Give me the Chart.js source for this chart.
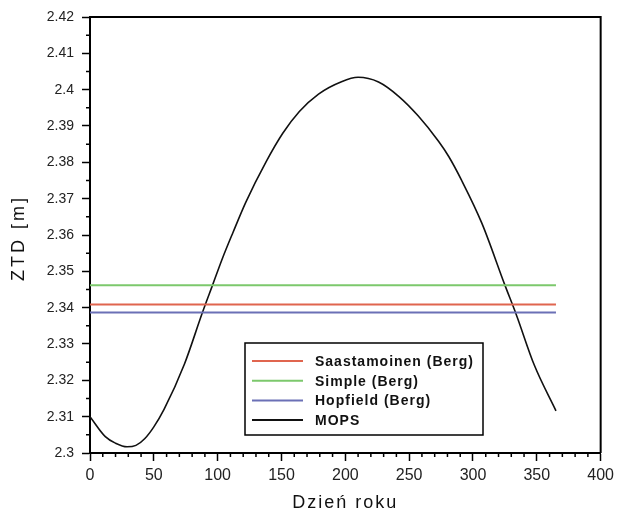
<!DOCTYPE html>
<html>
<head>
<meta charset="utf-8">
<script src="https://cdn.jsdelivr.net/npm/chart.js@4"></script>
<style>
  html, body { margin: 0; padding: 0; background: #fff; }
  canvas { display: block; }
</style>
</head>
<body>
<canvas id="ztdChart" width="619" height="512"></canvas>
<script>
// day of year and ZTD from the MOPS model
const mopsDays = [0, 12, 20, 29, 36, 43, 50, 58, 74, 88, 96, 104, 112, 122, 138, 151, 164, 179, 197, 210, 226, 242, 257, 273, 281, 291, 307, 325, 334, 348, 365];
const mopsZtd = [2.3100, 2.3045, 2.3027, 2.3017, 2.3021, 2.3040, 2.3072, 2.3120, 2.3245, 2.3386, 2.3462, 2.3538, 2.3607, 2.3690, 2.3802, 2.3880, 2.3940, 2.3988, 2.4022, 2.4034, 2.4021, 2.3981, 2.3928, 2.3858, 2.3816, 2.3751, 2.3632, 2.3462, 2.3380, 2.3242, 2.3116];

// constant models (Berg atmosphere)
const bergDays = [0, 365];
const saastamoinenZtd = [2.3409, 2.3409];
const simpleZtd = [2.3462, 2.3462];
const hopfieldZtd = [2.3387, 2.3387];

const xTicks = [0, 50, 100, 150, 200, 250, 300, 350, 400];
const yTicks = [2.30, 2.31, 2.32, 2.33, 2.34, 2.35, 2.36, 2.37, 2.38, 2.39, 2.40, 2.41, 2.42];

function toPoints(xs, ys) {
  return xs.map((x, i) => ({ x: x, y: ys[i] }));
}

// frame, minor ticks, axis titles and boxed legend
const decorations = {
  id: "decorations",
  afterDraw(chart) {
    const ctx = chart.ctx;
    const area = chart.chartArea;
    const xs = chart.scales.x;
    const ys = chart.scales.y;
    ctx.save();

    // top and right edges of the frame
    ctx.strokeStyle = "#000";
    ctx.lineWidth = 2;
    ctx.beginPath();
    ctx.moveTo(area.left, area.top);
    ctx.lineTo(area.right, area.top);
    ctx.lineTo(area.right, area.bottom);
    ctx.stroke();

    // minor ticks
    ctx.lineWidth = 1.5;
    ctx.beginPath();
    for (let d = 10; d < 400; d += 10) {
      if (d % 50 === 0) continue;
      const px = xs.getPixelForValue(d);
      ctx.moveTo(px, area.bottom);
      ctx.lineTo(px, area.bottom + 4);
    }
    for (let i = 0; i < yTicks.length - 1; i++) {
      const py = ys.getPixelForValue(yTicks[i] + 0.005);
      ctx.moveTo(area.left, py);
      ctx.lineTo(area.left - 4, py);
    }
    ctx.stroke();

    // axis titles
    ctx.fillStyle = "#111";
    ctx.font = "18px 'Liberation Sans', Arial, sans-serif";
    ctx.textAlign = "center";
    ctx.textBaseline = "middle";
    ctx.letterSpacing = "2px";
    ctx.fillText("Dzień roku", (area.left + area.right) / 2, 503);
    ctx.save();
    ctx.translate(19, 238);
    ctx.rotate(-Math.PI / 2);
    ctx.letterSpacing = "3px";
    ctx.fillText("ZTD [m]", 0, 0);
    ctx.restore();

    // legend box
    ctx.lineWidth = 1.5;
    ctx.strokeStyle = "#000";
    ctx.fillStyle = "#fff";
    ctx.fillRect(245, 343, 238, 92);
    ctx.strokeRect(245, 343, 238, 92);
    ctx.font = "bold 14px 'Liberation Sans', Arial, sans-serif";
    ctx.textAlign = "left";
    ctx.letterSpacing = "1px";
    chart.data.datasets.forEach((ds, row) => {
      const y = 361 + row * 19.7;
      ctx.strokeStyle = ds.borderColor;
      ctx.lineWidth = 2;
      ctx.beginPath();
      ctx.moveTo(252, y);
      ctx.lineTo(303, y);
      ctx.stroke();
      ctx.fillStyle = "#111";
      ctx.fillText(ds.label, 315, y + 1);
    });

    ctx.restore();
  },
};

const ctx = document.getElementById("ztdChart").getContext("2d");

new Chart(ctx, {
  type: "line",
  data: {
    datasets: [
      {
        label: "Saastamoinen (Berg)",
        data: toPoints(bergDays, saastamoinenZtd),
        borderColor: "#e0654f",
        borderWidth: 2,
        pointRadius: 0,
      },
      {
        label: "Simple (Berg)",
        data: toPoints(bergDays, simpleZtd),
        borderColor: "#7cc86c",
        borderWidth: 2,
        pointRadius: 0,
      },
      {
        label: "Hopfield (Berg)",
        data: toPoints(bergDays, hopfieldZtd),
        borderColor: "#6b70b6",
        borderWidth: 2,
        pointRadius: 0,
      },
      {
        label: "MOPS",
        data: toPoints(mopsDays, mopsZtd),
        borderColor: "#111",
        borderWidth: 1.6,
        pointRadius: 0,
        cubicInterpolationMode: "monotone",
      },
    ],
  },
  options: {
    responsive: false,
    animation: false,
    devicePixelRatio: 1,
    layout: { padding: { top: 17, right: 15, left: 0, bottom: 0 } },
    plugins: {
      legend: { display: false },
      tooltip: { enabled: false },
    },
    scales: {
      x: {
        type: "linear",
        min: 0,
        max: 400,
        afterBuildTicks: (scale) => {
          scale.ticks = xTicks.map((v) => ({ value: v }));
        },
        afterFit: (scale) => {
          scale.height = 59;
        },
        border: { display: true, color: "#000", width: 2 },
        grid: {
          drawOnChartArea: false,
          tickLength: 8,
          tickColor: "#000",
          tickWidth: 1.5,
        },
        ticks: {
          padding: 5,
          color: "#222",
          maxRotation: 0,
          font: { family: "'Liberation Sans', Arial, sans-serif", size: 16 },
        },
      },
      y: {
        type: "linear",
        min: 2.3,
        max: 2.42,
        afterBuildTicks: (scale) => {
          scale.ticks = yTicks.map((v) => ({ value: v }));
        },
        afterFit: (scale) => {
          scale.width = 90;
        },
        border: { display: true, color: "#000", width: 2 },
        grid: {
          drawOnChartArea: false,
          tickLength: 8,
          tickColor: "#000",
          tickWidth: 1.5,
        },
        ticks: {
          padding: 8,
          color: "#222",
          font: { family: "'Liberation Sans', Arial, sans-serif", size: 14 },
          callback: (value) => String(parseFloat(value.toFixed(2))),
        },
      },
    },
  },
  plugins: [decorations],
});
</script>
</body>
</html>
